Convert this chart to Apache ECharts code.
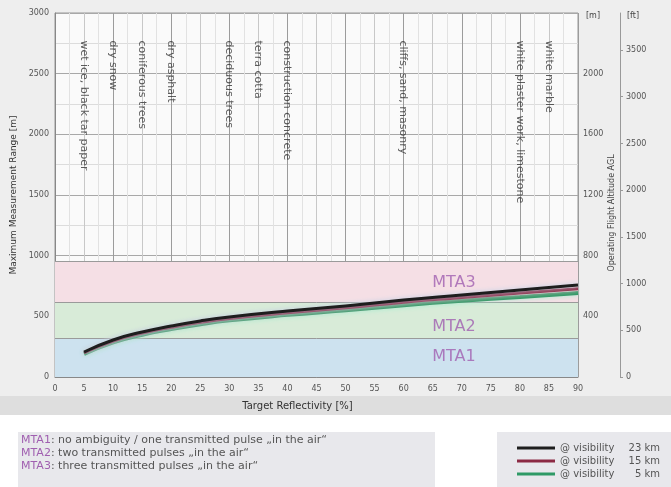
<!DOCTYPE html>
<html>
<head>
<meta charset="utf-8">
<script src="https://cdn.jsdelivr.net/npm/echarts@6/dist/echarts.min.js"></script>
<style>
  html, body { margin: 0; padding: 0; background: #fff; }
  #chart { width: 671px; height: 487px; }
</style>
</head>
<body>
<div id="chart"></div>
<script>
// reflectivity [%] vs max range [m]
const reflectivity = [5, 10, 15, 20, 25, 30, 40, 50, 60, 70, 80, 90]
const range23km = [206, 305, 371, 420, 462, 495, 544, 585, 635, 676, 717, 758]
const range15km = [200, 297, 362, 410, 451, 483, 530, 570, 617, 655, 693, 728]
const range5km = [190, 285, 348, 395, 435, 467, 512, 550, 592, 628, 660, 692]

const targetNames = ['wet ice, black tar paper', 'dry snow', 'coniferous trees', 'dry asphalt',
  'deciduous trees', 'terra cotta', 'construction concrete', 'cliffs, sand, masonry',
  'white plaster work, limestone', 'white marble']
const targetReflect = [5, 10, 15, 20, 30, 35, 40, 60, 80, 85]

const mtaBounds = [0, 320, 615, 950]
const mtaNames = ['MTA1', 'MTA2', 'MTA3']
const mtaLabelRange = [165, 412, 775]

const altitudeMLabels = { 500: '400', 1000: '800', 1500: '1200', 2000: '1600', 2500: '2000' }

const gray = '#555'
const font = 'DejaVu Sans'
const clear = 'rgba(0,0,0,0)'

const chart = echarts.init(document.getElementById('chart'))

const line = (name, data, color, glow, width) => ({
  name, type: 'line', data: reflectivity.map((r, i) => [r, data[i]]),
  smooth: true, showSymbol: false, z: 5,
  lineStyle: { color, width, shadowColor: glow, shadowBlur: 5 },
  itemStyle: { color }
})

const s5 = line('5 km', range5km, '#2f9a66', '#9ff0cf', 4)
s5.markArea = {
  silent: true,
  data: [
    [{ yAxis: mtaBounds[0], itemStyle: { color: '#cde2ef' } }, { yAxis: mtaBounds[1] }],
    [{ yAxis: mtaBounds[1], itemStyle: { color: '#d8ebd8' } }, { yAxis: mtaBounds[2] }],
    [{ yAxis: mtaBounds[2], itemStyle: { color: '#f5dfe5' } }, { yAxis: mtaBounds[3] }]
  ]
}
s5.markLine = {
  silent: true, symbol: 'none', label: { show: false },
  lineStyle: { color: '#9a9a9a', type: 'solid', width: 1 },
  data: mtaBounds.slice(1).map(v => ({ yAxis: v }))
}

chart.setOption({
  backgroundColor: '#fff',
  textStyle: { fontFamily: font },
  animation: false,
  graphic: [
    { type: 'rect', z: -10, shape: { x: 0, y: 0, width: 671, height: 415 }, style: { fill: '#eeeeee' } },
    { type: 'rect', z: -9, shape: { x: 0, y: 396, width: 671, height: 19 }, style: { fill: '#dedede' } },
    { type: 'rect', shape: { x: 18, y: 432, width: 417, height: 55 }, style: { fill: '#e8e8ec' } },
    { type: 'rect', shape: { x: 497, y: 432, width: 174, height: 55 }, style: { fill: '#e8e8ec' } },
    {
      type: 'text', left: 21, top: 434,
      style: {
        text: '{m|MTA1}: no ambiguity / one transmitted pulse \u201ein the air\u201c\n{m|MTA2}: two transmitted pulses \u201ein the air\u201c\n{m|MTA3}: three transmitted pulses \u201ein the air\u201c',
        font: '11px DejaVu Sans', fill: '#555', lineHeight: 13,
        rich: { m: { fill: '#a05fb0', fontSize: 11, fontFamily: font } }
      }
    },
    { type: 'text', x: 612, y: 213, rotation: Math.PI / 2,
      style: { text: 'Operating Flight Altitude AGL', font: '8px DejaVu Sans', fill: '#444', align: 'center', verticalAlign: 'middle' } },
    { type: 'text', x: 586, y: 12, style: { text: '[m]', font: '8px DejaVu Sans', fill: '#444' } },
    { type: 'text', x: 627, y: 12, style: { text: '[ft]', font: '8px DejaVu Sans', fill: '#444' } }
  ],
  grid: { left: 55, right: 93, top: 13, bottom: 110, show: true, backgroundColor: '#fafafa', borderColor: '#999', borderWidth: 1 },
  legend: {
    left: 512, top: 438, orient: 'vertical', itemGap: 3, itemWidth: 38, itemHeight: 3, icon: 'rect',
    data: ['23 km', '15 km', '5 km'],
    formatter: n => `{a|@ visibility}{b|${n}}`,
    textStyle: { color: '#555', fontSize: 10, rich: { a: { width: 66, fontSize: 10 }, b: { width: 34, align: 'right', fontSize: 10 } } }
  },
  xAxis: {
    type: 'value', min: 0, max: 90, interval: 5,
    name: 'Target Reflectivity [%]', nameLocation: 'middle', nameGap: 24,
    nameTextStyle: { color: '#333', fontSize: 10, padding: [0, 38, 0, 0] },
    axisLine: { lineStyle: { color: '#888' } },
    axisTick: { show: false },
    axisLabel: { color: gray, fontSize: 8, margin: 8 },
    splitLine: { show: true, lineStyle: { color: ['#9c9c9c', '#c8c8c8'], width: 1 } },
    minorSplitLine: { show: true, lineStyle: { color: '#e2e2e2' } },
    minorTick: { show: false, splitNumber: 2 }
  },
  yAxis: [
    {
      type: 'value', min: 0, max: 3000, interval: 500,
      name: 'Maximum Measurement Range [m]', nameLocation: 'middle', nameGap: 33,
      nameTextStyle: { color: '#333', fontSize: 9 },
      axisLine: { show: true, lineStyle: { color: '#888' } },
      axisTick: { show: false },
      axisLabel: { color: gray, fontSize: 8, margin: 6, formatter: v => String(v) },
      splitLine: { lineStyle: { color: '#a8a8a8' } },
      minorSplitLine: { show: true, lineStyle: { color: '#dcdcdc' } },
      minorTick: { show: false, splitNumber: 2 }
    },
    {
      type: 'value', min: 0, max: 3000, interval: 500, position: 'right',
      axisLine: { show: false }, axisTick: { show: false }, splitLine: { show: false },
      axisLabel: { color: gray, fontSize: 8, margin: 5, formatter: v => altitudeMLabels[v] || '' }
    },
    {
      type: 'value', min: 0, max: 3896, interval: 500, position: 'right', offset: 42,
      axisLine: { show: true, lineStyle: { color: '#999' } },
      axisTick: { show: true, length: 3, lineStyle: { color: '#999' } },
      splitLine: { show: false },
      axisLabel: { color: gray, fontSize: 8, margin: 6, showMaxLabel: false, formatter: v => String(v) }
    }
  ],
  series: [
    s5,
    line('15 km', range15km, '#8c2a44', '#f6bccc', 3),
    line('23 km', range23km, '#1e1e1e', '#bcd6ea', 3),
    {
      type: 'scatter', silent: true, symbolSize: 1, itemStyle: { color: clear }, z: 6,
      data: targetReflect.map((r, i) => ({ name: targetNames[i], value: [r, 2770] })),
      label: { show: true, formatter: p => p.name, rotate: -90, position: [0, 0], align: 'left', verticalAlign: 'middle', color: '#333', fontSize: 11, fontFamily: font }
    },
    {
      type: 'scatter', silent: true, symbolSize: 1, itemStyle: { color: clear }, z: 6,
      data: mtaNames.map((n, i) => ({ name: n, value: [65, mtaLabelRange[i]] })),
      label: { show: true, formatter: p => p.name, position: [0, 0], align: 'left', verticalAlign: 'middle', color: '#a05fb0', fontSize: 16, fontFamily: font }
    }
  ]
})
</script>
</body>
</html>
